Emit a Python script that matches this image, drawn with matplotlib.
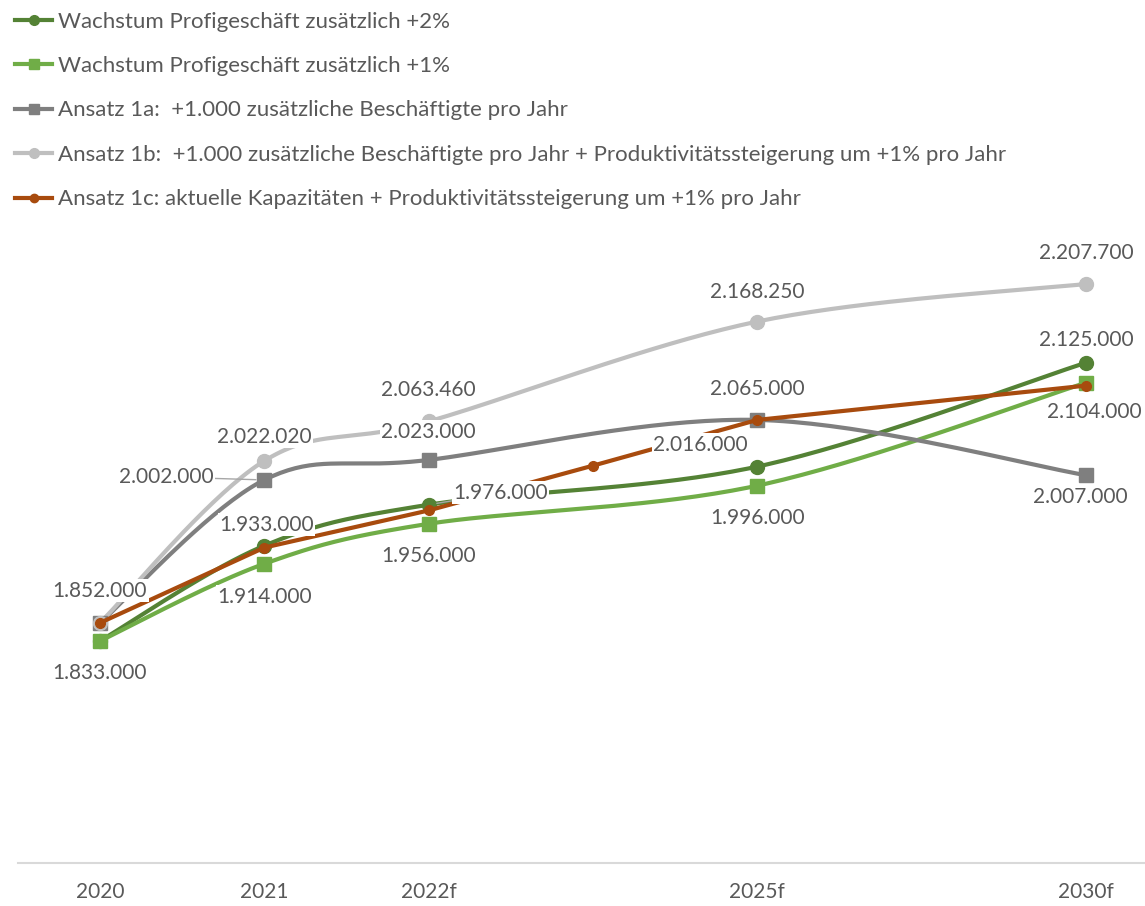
import numpy as np
import matplotlib.pyplot as plt
from matplotlib.lines import Line2D

# ------------- data ------------------------------------------------
years = ["2020", "2021", "2022f", "", "2025f", "", "2030f"]
pos_main = [0, 1, 2, 4, 6]          # slots used by the first four series
pos_1c = [0, 1, 2, 3, 4, 6]         # series 1c has one extra point

gruen_2 = [1833000, 1933000, 1976000, 2016000, 2125000]
gruen_1 = [1833000, 1914000, 1956000, 1996000, 2104000]
ansatz_1a = [1852000, 2002000, 2023000, 2065000, 2007000]
ansatz_1b = [1852000, 2022020, 2063460, 2168250, 2207700]
ansatz_1c = [1852000, 1931000, 1970000, 2017000, 2065000, 2101000]

names = ["Wachstum Profigeschäft zusätzlich +2%",
         "Wachstum Profigeschäft zusätzlich +1%",
         "Ansatz 1a:  +1.000 zusätzliche Beschäftigte pro Jahr",
         "Ansatz 1b:  +1.000 zusätzliche Beschäftigte pro Jahr + Produktivitätssteigerung um +1% pro Jahr",
         "Ansatz 1c: aktuelle Kapazitäten + Produktivitätssteigerung um +1% pro Jahr"]

# ------------- styles / label offsets (pixels) ----------------------
c_dg, c_lg, c_gr, c_lgr, c_or = "#548235", "#70AD47", "#7F7F7F", "#BFBFBF", "#A84B0E"
txt = "#595959"
off_dg = [None, (2, 21), (72, 12), (-57, 22), (0, 23)]
off_lg = [(0, -32), (0, -33), (0, -32), (0, -32), (8, -29)]
off_gr = [None, (-98, 3), (0, 28), (0, 31), (-6, -22)]
off_lgr = [(0, 32), (0, 24), (0, 31), (0, 30), (0, 31)]
leader = {("gr", 1), ("dg", 2)}


def smooth(x, y, n=40):
    # bezier smoothing similar to the office "smoothed line"
    x = np.asarray(x, float); y = np.asarray(y, float)
    P = np.column_stack((x, y))
    Pe = np.vstack((P[0], P, P[-1]))
    out = []
    for i in range(len(P) - 1):
        p0, p3 = P[i], P[i + 1]
        p1 = p0 + (Pe[i + 2] - Pe[i]) / 6
        p2 = p3 - (Pe[i + 3] - Pe[i + 1]) / 6
        t = np.linspace(0, 1, n)[:, None]
        out.append((1-t)**3*p0 + 3*(1-t)**2*t*p1 + 3*(1-t)*t**2*p2 + t**3*p3)
    c = np.vstack(out)
    return c[:, 0], c[:, 1]


def fmt(v):
    return f"{v:,}".replace(",", ".")


plt.rcParams['font.family'] = ['Lato', 'DejaVu Sans']
fig = plt.figure(figsize=(11.45, 9.06), dpi=100)
ax = fig.add_axes([17.8/1145, 43/906, 7*164.33/1145, 667/906])
ax.set_xlim(-0.5, 6.5)
ax.set_ylim(1600000, 2300000)

series = [("dg", gruen_2, c_dg, "o", 10, off_dg),
          ("lg", gruen_1, c_lg, "s", 10, off_lg),
          ("gr", ansatz_1a, c_gr, "s", 10, off_gr),
          ("lgr", ansatz_1b, c_lgr, "o", 10, off_lgr)]

handles = []
for key, vals, col, mk, ms, offs in series:
    sx, sy = smooth(pos_main, vals)
    ax.plot(sx, sy, color=col, lw=3, solid_capstyle='round', zorder=2)
    ax.plot(pos_main, vals, ls='none', marker=mk, ms=ms, color=col, zorder=3)
    handles.append(Line2D([], [], color=col, lw=3, marker=mk, ms=7))

ax.plot(pos_1c, ansatz_1c, color=c_or, lw=3, marker="o", ms=7, zorder=4)
handles.append(Line2D([], [], color=c_or, lw=3, marker="o", ms=6))

for key, vals, col, mk, ms, offs in series:
    for i, (p, v) in enumerate(zip(pos_main, vals)):
        if offs[i] is None:
            continue
        ap = None
        if (key, i) in leader:
            ap = dict(arrowstyle='-', color="#A6A6A6", lw=1, shrinkA=0, shrinkB=6)
        ax.annotate(fmt(v), (p, v), xytext=offs[i], textcoords='offset pixels',
                    ha='center', va='center', fontsize=15, color=txt,
                    bbox=dict(fc='white', ec='none', pad=1), zorder=6,
                    arrowprops=ap)

ax.set_xticks(range(len(years)))
ax.set_xticklabels(years, fontsize=15, color=txt)
ax.tick_params(axis='x', length=0, pad=14)
ax.set_yticks([])
for s in ["left", "right", "top"]:
    ax.spines[s].set_visible(False)
ax.spines["bottom"].set_color("#D9D9D9")
ax.spines["bottom"].set_linewidth(1.5)

fig.legend(handles, names, loc='upper left', bbox_to_anchor=(0.005, 0.997),
           frameon=False, fontsize=16, labelcolor=txt, handlelength=1.7,
           handletextpad=0.25, labelspacing=1.1, borderaxespad=0.0)

plt.savefig("out.png", dpi=100)
